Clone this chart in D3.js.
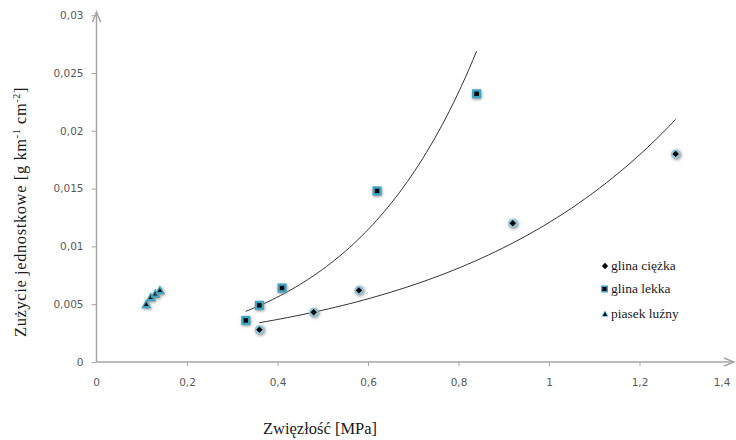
<!DOCTYPE html>
<html>
<head>
<meta charset="UTF-8">
<title>Zużycie jednostkowe</title>
<script src="https://cdn.jsdelivr.net/npm/d3@7"></script>
<style>
  body { margin: 0; background: #fff; }
  svg text.serif { font-family: 'Liberation Serif', 'DejaVu Serif', serif; }
  svg text.sans { font-family: 'DejaVu Sans', sans-serif; }
</style>
</head>
<body>
<svg id="chart" width="736" height="440"></svg>
<script>
// ---------------------------------------------------
// data
// ---------------------------------------------------
var seriesNames = ["glina ciężka", "glina lekka", "piasek luźny"];

var ciezkaX = [0.36, 0.48, 0.58, 0.92, 1.28];
var ciezkaY = [0.0028, 0.0043, 0.0062, 0.012, 0.018];

var lekkaX = [0.33, 0.36, 0.41, 0.62, 0.84];
var lekkaY = [0.0036, 0.0049, 0.0064, 0.0148, 0.0232];

var piasekX = [0.11, 0.12, 0.13, 0.14];
var piasekY = [0.005, 0.0056, 0.0059, 0.0062];

// exponential trendlines y = a * exp(b x)
var trendA = [0.001667, 0.001354, 0.00237];
var trendB = [1.979, 3.558, 6.97];
var trendFrom = [0.36, 0.33, 0.11];
var trendTo = [1.28, 0.84, 0.14];

var xTicks = [0, 0.2, 0.4, 0.6, 0.8, 1, 1.2, 1.4];
var xTickLabels = ["0", "0,2", "0,4", "0,6", "0,8", "1", "1,2", "1,4"];
var yTicks = [0, 0.005, 0.01, 0.015, 0.02, 0.025, 0.03];
var yTickLabels = ["0", "0,005", "0,01", "0,015", "0,02", "0,025", "0,03"];

// ---------------------------------------------------
// setup
// ---------------------------------------------------
var svg = d3.select("#chart");
var x = d3.scaleLinear().domain([0, 1.4]).range([96.5, 730]);
var y = d3.scaleLinear().domain([0, 0.03]).range([362, 15.2]);
var axisColor = "#a6a6a6";
var teal = "#3aa5c4";

var defs = svg.append("defs");
defs.append("filter").attr("id", "blur").attr("x", "-1").attr("y", "-1").attr("width", "3").attr("height", "3")
  .append("feGaussianBlur").attr("stdDeviation", 1.4);
defs.append("filter").attr("id", "soft").attr("x", "-1").attr("y", "-1").attr("width", "3").attr("height", "3")
  .append("feGaussianBlur").attr("stdDeviation", 0.6);

// ---------------------------------------------------
// axes
// ---------------------------------------------------
var yAxis = d3.axisLeft(y).tickValues(yTicks).tickSize(5)
  .tickFormat(function (d, i) { return yTickLabels[i]; });
var gy = svg.append("g").attr("transform", "translate(" + x(0) + ",0)").call(yAxis)
  .attr("font-family", null).attr("font-size", 10.5);
gy.select(".domain").remove();
gy.selectAll(".tick line").attr("stroke", axisColor).attr("stroke-width", 1);
gy.selectAll(".tick text").attr("class", "sans").attr("x", -13).attr("fill", "#595959");

var xAxis = d3.axisBottom(x).tickValues(xTicks.slice(1, -1)).tickSize(4)
  .tickFormat(function (d, i) { return xTickLabels[i + 1]; });
var gx = svg.append("g").attr("transform", "translate(0," + y(0) + ")").call(xAxis)
  .attr("font-family", null).attr("font-size", 10.5);
gx.select(".domain").remove();
gx.selectAll(".tick line").attr("stroke", axisColor).attr("stroke-width", 1);
gx.selectAll(".tick text").attr("class", "sans").attr("y", 17).attr("fill", "#595959");

// 0 and 1,4 labels on the x axis
gx.append("text").attr("class", "sans").attr("x", x(0)).attr("y", 17).attr("dy", "0.71em").attr("fill", "#595959")
  .attr("text-anchor", "middle").text(xTickLabels[0]);
gx.append("text").attr("class", "sans").attr("x", x(1.4) - 8).attr("y", 17).attr("dy", "0.71em").attr("fill", "#595959")
  .attr("text-anchor", "middle").text(xTickLabels[xTickLabels.length - 1]);

// axis lines with arrow heads
svg.append("line").attr("x1", x(0)).attr("x2", x(0)).attr("y1", y(0)).attr("y2", 12)
  .attr("stroke", axisColor).attr("stroke-width", 1.5);
svg.append("path").attr("d", "M" + (x(0) - 4) + "," + 22 + "L" + x(0) + "," + 12 + "L" + (x(0) + 4) + "," + 22)
  .attr("fill", "none").attr("stroke", axisColor).attr("stroke-width", 1.5);
svg.append("line").attr("x1", x(0)).attr("x2", 734).attr("y1", y(0)).attr("y2", y(0))
  .attr("stroke", axisColor).attr("stroke-width", 1.5);
svg.append("path").attr("d", "M724," + (y(0) - 4) + "L734," + y(0) + "L724," + (y(0) + 4))
  .attr("fill", "none").attr("stroke", axisColor).attr("stroke-width", 1.5);

// titles
svg.append("text").attr("class", "serif").attr("x", 320).attr("y", 434)
  .attr("font-size", 16.5).attr("fill", "#1a1a1a")
  .attr("text-anchor", "middle").text("Zwięzłość [MPa]");

var yt = svg.append("text").attr("class", "serif")
  .attr("font-size", 16.5).attr("letter-spacing", 0.6).attr("fill", "#1a1a1a")
  .attr("transform", "translate(26,212) rotate(-90)").attr("text-anchor", "middle");
yt.append("tspan").text("Zużycie jednostkowe [g km");
yt.append("tspan").attr("font-size", 10).attr("dy", -6).text("-1");
yt.append("tspan").attr("dy", 6).text(" cm");
yt.append("tspan").attr("font-size", 10).attr("dy", -6).text("-2");
yt.append("tspan").attr("dy", 6).text("]");

// ---------------------------------------------------
// trendlines
// ---------------------------------------------------
var line = d3.line().x(function (d) { return x(d[0]); }).y(function (d) { return y(d[1]); });
trendA.forEach(function (a, i) {
  var n = 60, pts = [];
  for (var k = 0; k <= n; k++) {
    var xv = trendFrom[i] + (trendTo[i] - trendFrom[i]) * k / n;
    pts.push([xv, a * Math.exp(trendB[i] * xv)]);
  }
  svg.append("path").attr("d", line(pts)).attr("fill", "none")
    .attr("stroke", "#333").attr("stroke-width", 1);
});

// ---------------------------------------------------
// markers
// ---------------------------------------------------
function diamond(g, cx, cy, r) {
  g.append("path").attr("d", "M" + cx + "," + (cy - r) + "L" + (cx + r) + "," + cy + "L" + cx + "," + (cy + r) + "L" + (cx - r) + "," + cy + "Z");
}
function drawDiamond(g, cx, cy, glow) {
  if (glow) {
    g.append("circle").attr("cx", cx + 1).attr("cy", cy + 1).attr("r", 5).attr("fill", "#9a9a9a").attr("filter", "url(#blur)");
    g.append("circle").attr("cx", cx).attr("cy", cy).attr("r", 4.5).attr("fill", "#8cc6da").attr("filter", "url(#soft)");
  }
  var d = g.append("g").attr("fill", "#000");
  diamond(d, cx, cy, 3.2);
}
function drawSquare(g, cx, cy, glow) {
  if (glow) {
    g.append("rect").attr("x", cx - 4).attr("y", cy - 3.5).attr("width", 9).attr("height", 9)
      .attr("fill", "#8a8a8a").attr("filter", "url(#blur)");
  }
  g.append("rect").attr("x", cx - 4.5).attr("y", cy - 4.5).attr("width", 9).attr("height", 9).attr("fill", teal);
  g.append("rect").attr("x", cx - 2.2).attr("y", cy - 2.2).attr("width", 4.4).attr("height", 4.4).attr("fill", "#000");
}
function drawTriangle(g, cx, cy, glow) {
  var tri = function (s) {
    return "M" + cx + "," + (cy - s) + "L" + (cx + s) + "," + (cy + s * 0.8) + "L" + (cx - s) + "," + (cy + s * 0.8) + "Z";
  };
  if (glow) {
    g.append("path").attr("d", tri(5)).attr("transform", "translate(1,1)").attr("fill", "#8a8a8a").attr("filter", "url(#blur)");
  }
  g.append("path").attr("d", tri(5)).attr("fill", teal);
  g.append("path").attr("d", tri(2.2)).attr("fill", "#000");
}

var gm = svg.append("g");
piasekX.forEach(function (v, i) { drawTriangle(gm, x(v), y(piasekY[i]), true); });
lekkaX.forEach(function (v, i) { drawSquare(gm, x(v), y(lekkaY[i]), true); });
ciezkaX.forEach(function (v, i) { drawDiamond(gm, x(v), y(ciezkaY[i]), true); });

// ---------------------------------------------------
// legend
// ---------------------------------------------------
var legendY = [266, 289, 314];
var lg = svg.append("g");
drawDiamond(lg, 605, legendY[0], false);
var ls = lg.append("g");
ls.append("rect").attr("x", 601).attr("y", legendY[1] - 3.5).attr("width", 7).attr("height", 7).attr("fill", teal);
ls.append("rect").attr("x", 602.5).attr("y", legendY[1] - 2).attr("width", 4).attr("height", 4).attr("fill", "#000");
lg.append("path").attr("d", "M605," + (legendY[2] - 3.5) + "L608.5," + (legendY[2] + 2.5) + "L601.5," + (legendY[2] + 2.5) + "Z")
  .attr("fill", teal);
lg.append("path").attr("d", "M605," + (legendY[2] - 2) + "L607," + (legendY[2] + 2) + "L603," + (legendY[2] + 2) + "Z")
  .attr("fill", "#000");
seriesNames.forEach(function (name, i) {
  lg.append("text").attr("class", "serif").attr("x", 611).attr("y", legendY[i] + 4)
    .attr("font-size", 13.5).attr("fill", "#1a1a1a").text(name);
});
</script>
</body>
</html>
